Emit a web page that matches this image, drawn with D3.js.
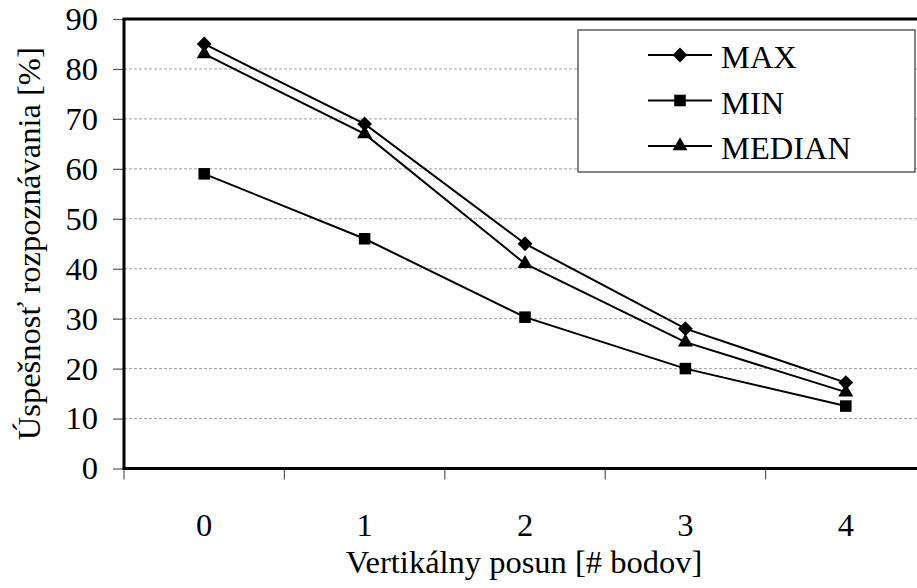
<!DOCTYPE html>
<html>
<head>
<meta charset="utf-8">
<script src="https://cdn.jsdelivr.net/npm/d3@7"></script>
</head>
<body style="margin:0; background:#fff">
<svg width="917" height="588" font-family="Liberation Serif"></svg>
<script>
const categories = ["0", "1", "2", "3", "4"];
const maxValues = [85, 69, 45, 28, 17.2];
const minValues = [59, 46, 30.3, 20, 12.5];
const medianValues = [83, 67, 41, 25.3, 15.3];
const yTicks = [0, 10, 20, 30, 40, 50, 60, 70, 80, 90];

const series = [
  { name: "MAX", values: maxValues, symbol: d3.symbolDiamond2, size: 140 },
  { name: "MIN", values: minValues, symbol: d3.symbolSquare2, size: 170 },
  { name: "MEDIAN", values: medianValues, symbol: d3.symbolTriangle2, size: 160 }
];

const width = 917;
const height = 588;
const margin = { top: 19, right: -9, bottom: 120, left: 124 };

const svg = d3.select("svg");

const serifText = sel => sel
  .attr("font-family", "Liberation Serif")
  .style("font-family", "'Liberation Serif', 'Times New Roman', Tinos")
  .style("font-size", "32.5px")
  .attr("fill", "#000");

const x = d3.scaleBand().domain(categories).range([margin.left, width - margin.right]);
const y = d3.scaleLinear().domain([0, 90]).range([height - margin.bottom + 0.5, margin.top]);

// gridlines
svg.append("g")
  .selectAll("line")
  .data(yTicks.filter(d => d > 0 && d < 90))
  .join("line")
  .attr("x1", margin.left)
  .attr("x2", width)
  .attr("y1", d => y(d))
  .attr("y2", d => y(d))
  .attr("stroke", "#a0a0a0")
  .attr("stroke-width", 1)
  .attr("stroke-dasharray", "3,2");

// y axis
const yAxis = svg.append("g")
  .attr("transform", `translate(${margin.left},0)`)
  .call(d3.axisLeft(y).tickValues(yTicks).tickSize(11).tickPadding(15));
yAxis.attr("font-family", "Liberation Serif").attr("font-size", 32.5);
yAxis.select(".domain").remove();
yAxis.selectAll(".tick line").attr("stroke", "#555").attr("stroke-width", 1.2);
yAxis.selectAll(".tick text").call(serifText);

// x axis
const xAxis = svg.append("g")
  .attr("transform", `translate(0,${y(0)})`)
  .call(d3.axisBottom(x).tickSize(0).tickPadding(44));
xAxis.attr("font-family", "Liberation Serif").attr("font-size", 32.5);
xAxis.select(".domain").remove();
xAxis.selectAll(".tick text").call(serifText);

// band boundary ticks
svg.append("g")
  .selectAll("line")
  .data(categories)
  .join("line")
  .attr("x1", d => x(d))
  .attr("x2", d => x(d))
  .attr("y1", y(0))
  .attr("y2", y(0) + 11)
  .attr("stroke", "#555")
  .attr("stroke-width", 1.2);

// frame: left, bottom, top
const frame = svg.append("g").attr("stroke", "#000").attr("stroke-width", 3);
frame.append("line").attr("x1", margin.left).attr("x2", margin.left).attr("y1", y(90)).attr("y2", y(0));
frame.append("line").attr("x1", margin.left - 1.5).attr("x2", width).attr("y1", y(0)).attr("y2", y(0));
frame.append("line").attr("x1", margin.left - 1.5).attr("x2", width).attr("y1", y(90)).attr("y2", y(90));

const cx = d => x(d) + x.bandwidth() / 2;

const line = d3.line()
  .x((d, i) => cx(categories[i]))
  .y(d => y(d));

series.forEach(s => {
  svg.append("path")
    .datum(s.values)
    .attr("fill", "none")
    .attr("stroke", "#000")
    .attr("stroke-width", 2)
    .attr("d", line);
});

series.forEach(s => {
  svg.append("g")
    .selectAll("path")
    .data(s.values)
    .join("path")
    .attr("transform", (d, i) => `translate(${cx(categories[i])},${y(d)})`)
    .attr("d", d3.symbol(s.symbol, s.size))
    .attr("fill", "#000");
});

// legend
const legend = svg.append("g").attr("transform", "translate(578,30)");
legend.append("rect")
  .attr("width", 337)
  .attr("height", 142)
  .attr("fill", "#fff")
  .attr("stroke", "#444")
  .attr("stroke-width", 1.3);

series.forEach((s, i) => {
  const ly = 25 + i * 45.5;
  const row = legend.append("g").attr("transform", `translate(0,${ly})`);
  row.append("line")
    .attr("x1", 70).attr("x2", 134)
    .attr("stroke", "#000").attr("stroke-width", 2);
  row.append("path")
    .attr("transform", "translate(102,0)")
    .attr("d", d3.symbol(s.symbol, s.size))
    .attr("fill", "#000");
  row.append("text")
    .attr("x", 143)
    .attr("y", 13)
    .call(serifText)
    .text(s.name);
});

// axis titles
svg.append("text")
  .attr("x", (margin.left + 926) / 2 - 1)
  .attr("y", 573)
  .attr("text-anchor", "middle")
  .call(serifText)
  .text("Vertikálny posun [# bodov]");

svg.append("text")
  .attr("transform", `translate(40,${(y(0) + y(90)) / 2}) rotate(-90)`)
  .attr("text-anchor", "middle")
  .call(serifText)
  .text("Úspešnosť rozpoznávania [%]");
</script>
</body>
</html>
